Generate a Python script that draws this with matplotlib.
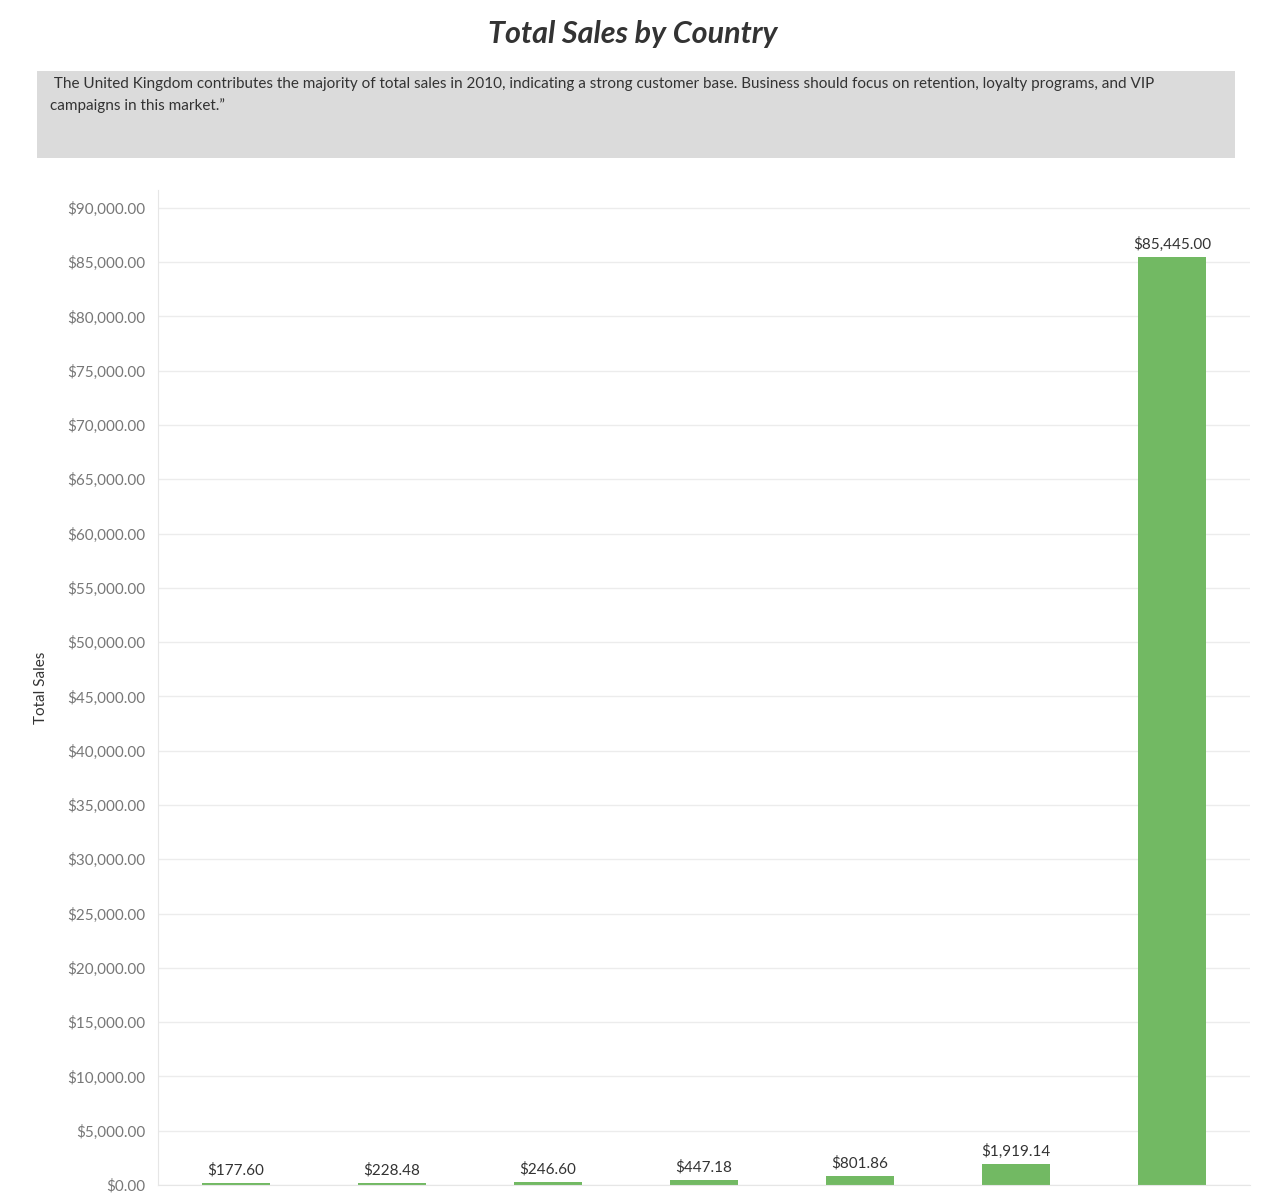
import matplotlib.pyplot as plt
from matplotlib.patches import Rectangle
from matplotlib.ticker import FuncFormatter, MultipleLocator

plt.rcParams['font.family'] = ['Lato', 'DejaVu Sans']

sales = [177.60, 228.48, 246.60, 447.18, 801.86, 1919.14, 85445.00]
labels = ['$177.60', '$228.48', '$246.60', '$447.18', '$801.86', '$1,919.14', '$85,445.00']

W, H = 1269, 1204
fig = plt.figure(figsize=(W / 100, H / 100), dpi=100)

# title and note box
fig.text(633 / W, 1 - 34 / H, 'Total Sales by Country', ha='center', va='center',
         fontsize=22, fontweight='bold', fontstyle='italic', color='#333333')
fig.patches.append(Rectangle((37 / W, 1 - 158 / H), (1235 - 37) / W, (158 - 71) / H,
                             transform=fig.transFigure, facecolor='#dbdbdb', edgecolor='none'))
fig.text(50 / W, 1 - 95 / H,
         ' The United Kingdom contributes the majority of total sales in 2010, indicating a strong customer base. Business should focus on retention, loyalty programs, and VIP\ncampaigns in this market.\u201d',
         ha='left', va='center', fontsize=11, color='#333333', linespacing=1.6)

ax = fig.add_axes([158 / W, 1 - 1185 / H, (1250 - 158) / W, (1185 - 190) / H])
x = range(len(sales))
ax.bar(x, sales, width=0.436, color='#72b963')
for xi, v, lab in zip(x, sales, labels):
    ax.text(xi, v + 500, lab, ha='center', va='bottom', fontsize=11, color='#333333')

ax.set_xlim(-0.5, 6.5)
ax.set_ylim(0, 91650)
ax.yaxis.set_major_locator(MultipleLocator(5000))
ax.yaxis.set_major_formatter(FuncFormatter(lambda v, p: f'${v:,.2f}'))
ax.tick_params(axis='y', length=0, labelsize=11, labelcolor='#777777', pad=9)
ax.set_xticks([])
ax.grid(axis='y', color='#ececec', linewidth=1)
ax.set_axisbelow(True)
for s in ['top', 'right']:
    ax.spines[s].set_visible(False)
ax.spines['left'].set_color('#e6e6e6')
ax.spines['bottom'].set_color('#e6e6e6')
ax.set_ylabel('Total Sales', fontsize=11, color='#333333', labelpad=14)

fig.savefig('out.png', dpi=100)
